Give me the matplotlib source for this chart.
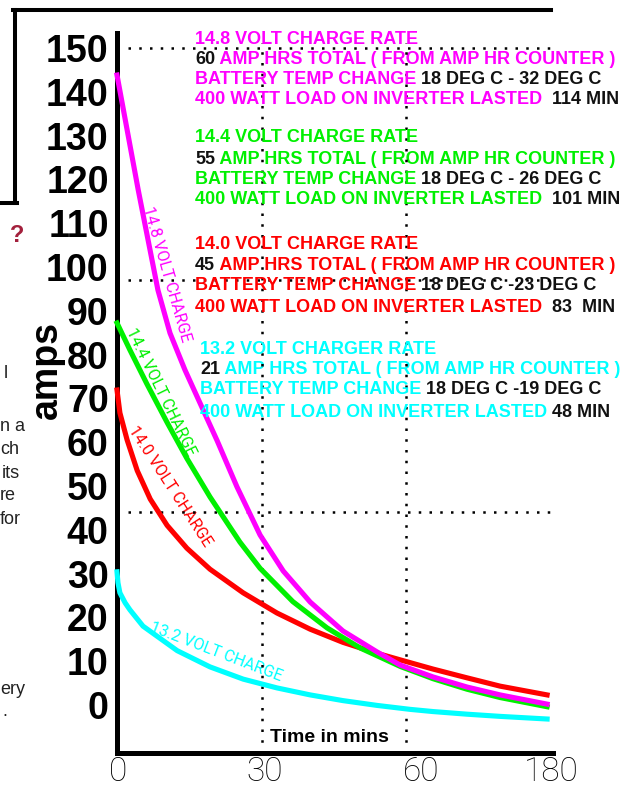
import numpy as np
import matplotlib
matplotlib.use('Agg')
import matplotlib.pyplot as plt
from matplotlib.lines import Line2D
from matplotlib.transforms import ScaledTranslation

plt.rcParams['font.family'] = ['Liberation Sans', 'DejaVu Sans']

# charge current (amps) against time (mins)
minutes_148 = [0, 4.4, 8.5, 11.0, 14.1, 17.2, 20.8, 24.9, 29.7, 34.5, 40.1, 46.9, 54.0, 58.8, 82.4, 110.6, 138.1, 177.1]
amps_148 = [143.8, 117.6, 94.7, 84.9, 76.5, 69.0, 60.3, 49.8, 38.8, 30.6, 23.5, 16.9, 12.1, 9.1, 6.4, 4.1, 2.3, 0.2]

minutes_144 = [0, 2.7, 6.2, 10.4, 14.5, 19.3, 25.5, 29.7, 36.5, 43.6, 50.5, 58.8, 82.4, 110.6, 138.1, 177.1]
amps_144 = [87.2, 81.0, 73.3, 64.5, 56.3, 47.5, 37.2, 31.2, 23.6, 17.6, 13.0, 8.8, 6.0, 3.6, 1.7, -0.4]

minutes_140 = [0, 0.6, 2.1, 4.2, 6.9, 10.4, 14.5, 19.3, 26.2, 33.2, 40.1, 46.9, 54.0, 58.8, 82.4, 110.6, 138.1, 177.1]
amps_140 = [71.9, 66.7, 60.5, 53.5, 47.0, 41.0, 35.8, 31.0, 25.6, 21.0, 17.3, 14.3, 11.8, 10.3, 8.2, 6.2, 4.3, 2.3]

minutes_132 = [0, 0.2, 0.6, 1.7, 2.7, 5.4, 12.5, 19.3, 26.2, 33.2, 40.1, 46.9, 54.0, 63.4, 82.4, 110.6, 138.1, 177.1]
amps_132 = [30.4, 27.9, 25.6, 23.3, 21.7, 18.0, 12.4, 8.7, 5.9, 3.9, 2.3, 1.0, -0.1, -1.0, -1.5, -2.1, -2.6, -3.2]

x_ticks = [0, 30, 60, 180]
x_tick_labels = ['0', '30', '60', '180']
y_ticks = list(range(0, 151, 10))
ref_amps = [150, 97, 44]
ref_minutes = [30, 60]

curve_labels = ['14.8 VOLT CHARGE', '14.4 VOLT CHARGE', '14.0 VOLT CHARGE', '13.2 VOLT CHARGE']

notes_148 = [[('14.8 VOLT CHARGE RATE', 'c')],
             [('60', 'k'), (' AMP HRS TOTAL ( FROM AMP HR COUNTER )', 'c')],
             [('BATTERY TEMP CHANGE', 'c'), (' 18 DEG C - 32 DEG C', 'k')],
             [('400 WATT LOAD ON INVERTER LASTED', 'c'), ('  114 MIN', 'k')]]
notes_144 = [[('14.4 VOLT CHARGE RATE', 'c')],
             [('55', 'k'), (' AMP HRS TOTAL ( FROM AMP HR COUNTER )', 'c')],
             [('BATTERY TEMP CHANGE', 'c'), (' 18 DEG C - 26 DEG C', 'k')],
             [('400 WATT LOAD ON INVERTER LASTED', 'c'), ('  101 MIN', 'k')]]
notes_140 = [[('14.0 VOLT CHARGE RATE', 'c')],
             [('45', 'k'), (' AMP HRS TOTAL ( FROM AMP HR COUNTER )', 'c')],
             [('BATTERY TEMP CHANGE', 'c'), (' 18 DEG C -23 DEG C', 'k')],
             [('400 WATT LOAD ON INVERTER LASTED', 'c'), ('  83  MIN', 'k')]]
notes_132 = [[('13.2 VOLT CHARGER RATE', 'c')],
             [('21', 'k'), (' AMP HRS TOTAL ( FROM AMP HR COUNTER )', 'c')],
             [('BATTERY TEMP CHANGE', 'c'), (' 18 DEG C -19 DEG C', 'k')],
             [('400 WATT LOAD ON INVERTER LASTED', 'c'), (' 48 MIN', 'k')]]

side_fragments = ['?', 'l', 'n a', 'ch', 'its', 're', 'for', 'ery', '.']

MAGENTA = '#ff00ff'
GREEN = '#00f000'
RED = '#ff0000'
CYAN = '#00ffff'
BLACK = '#111111'
THIN = ['Roboto', 'Lato', 'DejaVu Sans']

W, H = 625, 787


def fx(px):
    return px / W


def fy(py):
    return 1 - py / H


def to_pos(m):
    # 0-30-60 evenly spaced, then 60-180 squeezed into one more step
    m = np.asarray(m, dtype=float)
    return np.where(m <= 60, m / 30.0, 2 + (m - 60) / 120.0)


def from_pos(p):
    p = np.asarray(p, dtype=float)
    return np.where(p <= 2, p * 30.0, 60 + (p - 2) * 120.0)


def note_block(ax, fig, x, ys, lines, color):
    for y, parts in zip(ys, lines):
        prev = None
        for s, c in parts:
            col = color if c == 'c' else BLACK
            if prev is None:
                prev = fig.text(fx(x), fy(y), s, color=col, fontsize=13,
                                fontweight='bold', va='center', ha='left', zorder=3)
            else:
                prev = ax.annotate(s, xy=(1, 0), xycoords=prev, color=col, fontsize=13,
                                   fontweight='bold', va='bottom', ha='left', zorder=3)


fig = plt.figure(figsize=(6.25, 7.87), dpi=100)
ax = fig.add_axes([fx(117), fy(753), 436 / W, 720 / H])

ax.set_xscale('function', functions=(to_pos, from_pos))
ax.set_xlim(0, 182)
ax.set_ylim(-10.96, 153.4)

for side in ['top', 'right']:
    ax.spines[side].set_visible(False)
for side in ['left', 'bottom']:
    ax.spines[side].set_linewidth(3.6)
    ax.spines[side].set_color('black')

ax.plot(minutes_132, amps_132, color=CYAN, lw=3.7, zorder=5, clip_on=False, solid_joinstyle='round')
ax.plot(minutes_140, amps_140, color=RED, lw=3.7, zorder=5, clip_on=False, solid_joinstyle='round')
ax.plot(minutes_144, amps_144, color=GREEN, lw=3.7, zorder=5, clip_on=False, solid_joinstyle='round')
ax.plot(minutes_148, amps_148, color=MAGENTA, lw=3.7, zorder=5, clip_on=False, solid_joinstyle='round')

# dotted guide lines
for m in ref_minutes:
    ax.axvline(m, ymin=0, ymax=0.986, color='black', lw=1.8, linestyle=(0, (1, 3.3)), zorder=4)
for a in ref_amps:
    ax.axhline(a, xmin=0.025, xmax=1.01, color='black', lw=1.8, linestyle=(0, (1, 3.3)),
               zorder=4, clip_on=False)

# labels along the curves
ax.text(10.4, 98.4, curve_labels[0], color=MAGENTA, fontsize=11.5, family=THIN,
        rotation=-74, ha='center', va='center', rotation_mode='anchor')
ax.text(9.1, 71.5, curve_labels[1], color=GREEN, fontsize=11.5, family=THIN,
        rotation=-64, ha='center', va='center', rotation_mode='anchor')
ax.text(11.0, 49.8, curve_labels[2], color=RED, fontsize=11.5, family=THIN,
        rotation=-57, ha='center', va='center', rotation_mode='anchor')
ax.text(20.6, 12.1, curve_labels[3], color=CYAN, fontsize=11.5, family=THIN,
        rotation=-21, ha='center', va='center', rotation_mode='anchor')

ax.set_yticks(y_ticks)
ax.set_yticklabels([str(v) for v in y_ticks], fontsize=27, fontweight='bold')
ax.tick_params(axis='y', length=0, pad=6)

ax.set_xticks(x_ticks)
ax.set_xticklabels(x_tick_labels, fontsize=24, family=THIN, fontweight='light')
ax.tick_params(axis='x', length=0, pad=2)
shifts = [1, 3, 15, 1]
for lbl, dx in zip(ax.get_xticklabels(), shifts):
    lbl.set_transform(lbl.get_transform() + ScaledTranslation(dx / 100, 0, fig.dpi_scale_trans))

ax.set_ylabel('amps', fontsize=27, fontweight='bold')
ax.yaxis.set_label_coords(-0.12, 0.532)

fig.text(fx(270), fy(737), 'Time in mins', fontsize=14, fontweight='bold', va='center', ha='left')

note_block(ax, fig, 195, [39, 60, 80, 100], notes_148, MAGENTA)
note_block(ax, fig, 195, [138, 160, 180, 200], notes_144, GREEN)
note_block(ax, fig, 195, [245, 265, 285, 307], notes_140, RED)
note_block(ax, fig, 200, [350, 370, 390, 412], notes_132, CYAN)

# leftovers of the surrounding page
for pts in [[(13, 10), (551, 10)], [(15, 10), (15, 203)], [(0, 203), (17, 203)]]:
    xs = [fx(p[0]) for p in pts]
    ys = [fy(p[1]) for p in pts]
    fig.add_artist(Line2D(xs, ys, color='black', lw=2.9, solid_capstyle='projecting',
                          transform=fig.transFigure))

fig.text(fx(10), fy(236), side_fragments[0], color='#a3203c', fontsize=17, fontweight='bold',
         va='center', ha='left')
frag_pos = [(4, 374), (0, 427), (0, 450), (2, 473), (0, 496), (0, 520), (0, 690), (2, 712)]
for s, (px, py) in zip(side_fragments[1:], frag_pos):
    fig.text(fx(px), fy(py), s, color='#222222', fontsize=13, va='center', ha='left')

plt.savefig('out.png', dpi=100)
plt.close(fig)
